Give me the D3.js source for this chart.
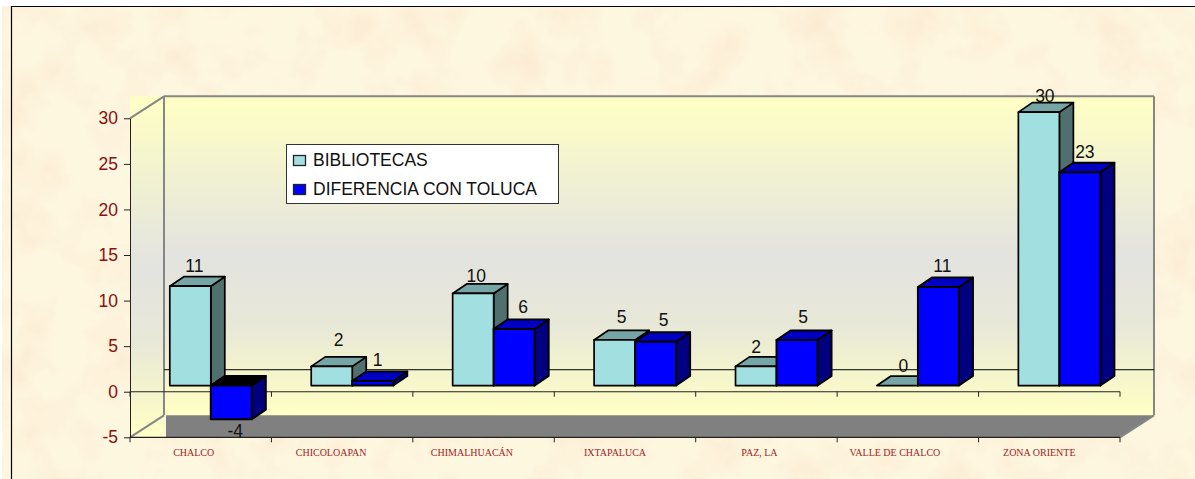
<!DOCTYPE html>
<html><head><meta charset="utf-8">
<script src="https://cdnjs.cloudflare.com/ajax/libs/d3/7.8.5/d3.min.js"></script>
<style>html,body{margin:0;padding:0;background:#fff}svg{display:block}</style>
</head><body><div id="chart"></div>
<script>
const categories = ["CHALCO","CHICOLOAPAN","CHIMALHUACÁN","IXTAPALUCA","PAZ, LA","VALLE DE CHALCO","ZONA ORIENTE"];
const bibliotecas = [10.9,2.1,10.1,5,2.1,0,30];
const diferencia = [-3.7,0.5,6.2,4.8,5,10.8,23.4];
const bibliotecasLabels = ["11","2","10","5","2","0","30"];
const diferenciaLabels = ["-4","1","6","5","5","11","23"];
const yTicks = [-5,0,5,10,15,20,25,30];
const seriesNames = ["BIBLIOTECAS","DIFERENCIA CON TOLUCA"];

// layout nudges (not data)
const catShift = [-7,-11,-11.6,-10,-7,-13,-10];
const bibNudge = [[4,-5],[7,-11],[3,-2],[7,-7],[0,-4],[6,-4],[6,-1]];
const difNudge = [[4,18],[5,-5],[9,-7],[8,-6],[6,-7],[4,-6],[5,-5]];

const W=1195,H=479;
const svg=d3.select("#chart").append("svg").attr("width",W).attr("height",H);
const defs=svg.append("defs");
const f=defs.append("filter").attr("id","parch").attr("x",0).attr("y",0).attr("width","100%").attr("height","100%");
f.append("feTurbulence").attr("type","fractalNoise").attr("baseFrequency","0.02").attr("numOctaves",4).attr("seed",7).attr("result","n");
f.append("feColorMatrix").attr("in","n").attr("type","matrix")
 .attr("values","0 0 0 0 0.97  0 0 0 0 0.84  0 0 0 0 0.66  2.2 0 0 0 -0.9");
const g=defs.append("linearGradient").attr("id","wall").attr("x1",0).attr("x2",0).attr("y1",0).attr("y2",1);
[[0,"#ffffc4"],[0.5,"#e3e3e0"],[0.72,"#e8e8d8"],[1,"#ffffc4"]].forEach(s=>g.append("stop").attr("offset",s[0]).attr("stop-color",s[1]));

svg.append("rect").attr("x",2).attr("y",6).attr("width",W-2).attr("height",H-6).attr("fill","#fef7e0");
svg.append("rect").attr("x",2).attr("y",6).attr("width",W-2).attr("height",H-6).attr("filter","url(#parch)");

const L=130,R=1120,DX=34,DY=22;
const x=d3.scaleBand().domain(categories).range([L,R]);
const y=d3.scaleLinear().domain([-5,30]).range([437.3,118.3]);
const x1=d3.scaleBand().domain([0,1]).range([0,82]);
const bx=6.2, slot=39.8, depthX=14, depthY=9.5;

const yTop=y(30)-DY, yBot=y(-5)-DY;
svg.append("rect").attr("x",L).attr("y",yTop).attr("width",DX).attr("height",y(-5)-yTop).attr("fill","url(#wall)");
svg.append("rect").attr("x",L+DX).attr("y",yTop).attr("width",R-L).attr("height",yBot-yTop).attr("fill","url(#wall)");
// floor
svg.append("polygon").attr("fill","#808080")
 .attr("points",[[L+DX+2,yBot],[R+DX,yBot],[R,y(-5)],[L+DX+2,y(-5)]].join(" "));
// wall edges
const wallLines=[[L,y(30),L+DX,yTop],[L,y(-5),L+DX,yBot],[L+DX,yTop,L+DX,yBot],[L+DX,yTop,R+DX,yTop],[R+DX,yTop,R+DX,yBot],[R,y(-5),R+DX,yBot]];
svg.append("g").selectAll("line").data(wallLines).join("line")
 .attr("x1",d=>d[0]).attr("y1",d=>d[1]).attr("x2",d=>d[2]).attr("y2",d=>d[3])
 .attr("stroke","#868686").attr("stroke-width",2);
// zero plane back line
svg.append("line").attr("x1",L+DX).attr("x2",R+DX).attr("y1",y(0)-DY).attr("y2",y(0)-DY).attr("stroke","#000").attr("stroke-width",1);

// y axis
const yAxis=svg.append("g").attr("transform",`translate(${L},0)`)
 .call(d3.axisLeft(y).tickValues(yTicks).tickFormat(String).tickSize(6).tickSizeOuter(0).tickPadding(6));
yAxis.select(".domain").attr("stroke","#222");
yAxis.selectAll("line").attr("stroke","#222");
yAxis.selectAll("text").attr("font-family","'Liberation Sans'").attr("font-size",17.5).attr("fill","#8b0f0f");

// category axes
[0,-5].forEach(v=>{
  const a=svg.append("g").attr("transform",`translate(0,${y(v)})`);
  a.append("line").attr("x1",L).attr("x2",R).attr("stroke","#222").attr("stroke-width",1.2);
  a.selectAll("line.t").data(categories.map(c=>x(c)).concat([R])).join("line").attr("class","t")
   .attr("x1",d=>d).attr("x2",d=>d).attr("y1",0).attr("y2",5).attr("stroke","#222");
});

function box(parent,x0,w,v,c){
  const y0=y(0)-bx, yv=y(v)-bx;
  const t=Math.min(y0,yv), b=Math.max(y0,yv);
  const g=parent.append("g").attr("stroke","#000").attr("stroke-width",c.sw).attr("stroke-linejoin","round");
  g.append("polygon").attr("fill",c.side).attr("points",[[x0+w,t],[x0+w+depthX,t-depthY],[x0+w+depthX,b-depthY],[x0+w,b]].join(" "));
  g.append("polygon").attr("fill",v<0?"#000":c.top).attr("points",[[x0,t],[x0+depthX,t-depthY],[x0+w+depthX,t-depthY],[x0+w,t]].join(" "));
  g.append("rect").attr("x",x0).attr("y",t).attr("width",w).attr("height",b-t).attr("fill",c.front);
  return {t,b};
}
const teal={front:"#a2dfe1",top:"#76a5a6",side:"#507070",sw:1.7};
const blue={front:"#0000ff",top:"#0000c4",side:"#000080",sw:2};
const bars=svg.append("g"), labels=svg.append("g");
categories.forEach((c,i)=>{
  const x0=x(c)+slot;
  const p=box(bars,x0+x1(0),x1.bandwidth(),bibliotecas[i],teal);
  const q=box(bars,x0+x1(1),x1.bandwidth(),diferencia[i],blue);
  const lab=(tx,ty,s)=>labels.append("text").attr("x",tx).attr("y",ty).attr("text-anchor","middle")
    .attr("font-family","'Liberation Sans'").attr("font-size",17.5).attr("fill","#111").text(s);
  lab(x0+x1(0)+x1.bandwidth()/2+bibNudge[i][0],p.t-depthY+bibNudge[i][1],bibliotecasLabels[i]);
  const qy=diferencia[i]<0?q.b:q.t-depthY;
  lab(x0+x1(1)+x1.bandwidth()/2+difNudge[i][0],qy+difNudge[i][1],diferenciaLabels[i]);
  svg.append("text").attr("x",x(c)+x.bandwidth()/2+catShift[i]).attr("y",456).attr("text-anchor","middle")
    .attr("font-family","'Liberation Serif'").attr("font-size",10).attr("fill","#9e2424").text(c);
});

// legend
const leg=svg.append("g");
leg.append("rect").attr("x",286.5).attr("y",144.5).attr("width",272).attr("height",59).attr("fill","#fff").attr("stroke","#333").attr("stroke-width",1);
seriesNames.forEach((n,i)=>{
  const ly=155.5+i*29;
  leg.append("rect").attr("x",293.5).attr("y",ly).attr("width",12).attr("height",10).attr("fill",i?blue.front:teal.front).attr("stroke","#222").attr("stroke-width",1.3);
  leg.append("text").attr("x",313).attr("y",ly+10.5).attr("font-family","'Liberation Sans'").attr("font-size",17.5).attr("fill","#111").text(n);
});

// frame
svg.append("line").attr("x1",11).attr("x2",W).attr("y1",6.5).attr("y2",6.5).attr("stroke","#000").attr("stroke-width",1.2);
svg.append("line").attr("x1",11.5).attr("x2",11.5).attr("y1",6).attr("y2",H).attr("stroke","#000").attr("stroke-width",1.2);
</script></body></html>
